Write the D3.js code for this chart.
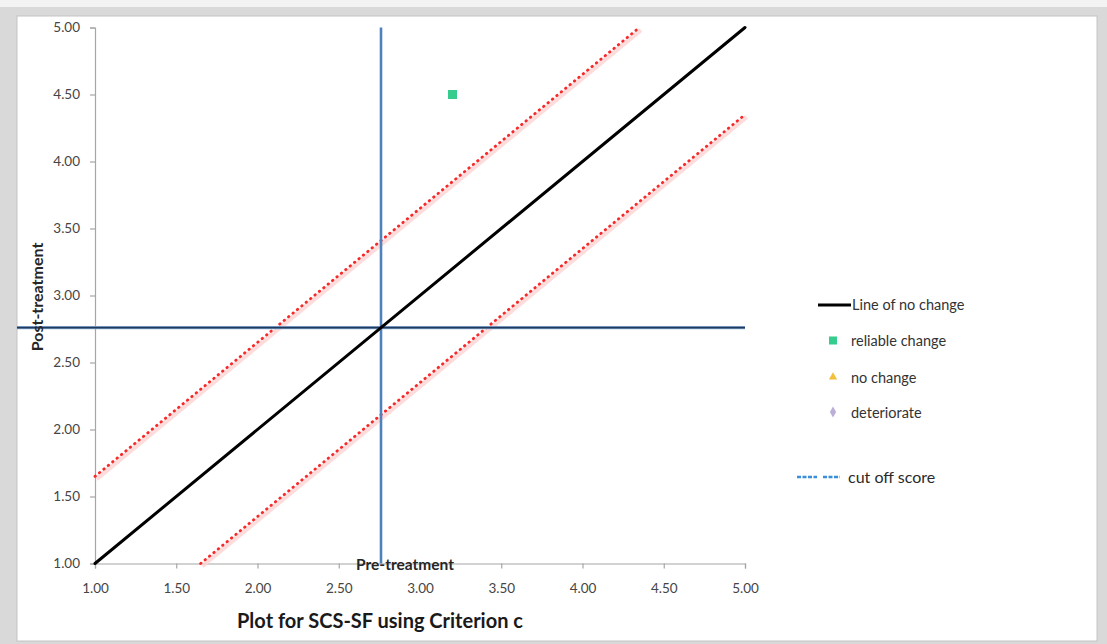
<!DOCTYPE html>
<html>
<head>
<meta charset="utf-8">
<script src="https://cdn.jsdelivr.net/npm/d3@7"></script>
<style>
  html, body { margin: 0; padding: 0; background: #d9d9d9; }
  svg { display: block; }
</style>
</head>
<body>
<svg id="chart" width="1107" height="644"></svg>
<script>
// Axis ticks (pre- and post-treatment scores)
const xTicks = [1.0, 1.5, 2.0, 2.5, 3.0, 3.5, 4.0, 4.5, 5.0];
const yTicks = [1.0, 1.5, 2.0, 2.5, 3.0, 3.5, 4.0, 4.5, 5.0];

// Line of no change (post = pre)
const noChangeLine = [[1.0, 1.0], [5.0, 5.0]];
// Reliable change index boundaries
const upperBound = [[1.0, 1.65], [4.35, 5.0]];
const lowerBound = [[1.65, 1.0], [5.0, 4.35]];
// Cut off scores
const cutoffPre = 2.76;
const cutoffPost = 2.76;

// Participants by outcome: [pre, post]
const reliableChange = [[3.2, 4.5]];
const noChange = [];
const deteriorate = [];

// Legend entries
const legendLabels = ["Line of no change", "reliable change", "no change", "deteriorate"];
const cutoffLabel = "cut off score";

const svg = d3.select("#chart");
const font = "Lato, 'Open Sans', sans-serif";

// Background panels
svg.append("rect").attr("x", 0).attr("y", 0).attr("width", 1107).attr("height", 7).attr("fill", "#f3f3f3");
svg.append("rect").attr("x", 17).attr("y", 16).attr("width", 1080).attr("height", 625)
  .attr("fill", "#ffffff").attr("stroke", "#c4c4c4").attr("stroke-width", 1);

const x = d3.scaleLinear().domain([1, 5]).range([95, 745]);
const y = d3.scaleLinear().domain([1, 5]).range([563.5, 27.5]);
const line = d3.line().x(d => x(d[0])).y(d => y(d[1]));

// Axes
const xAxis = svg.append("g").attr("transform", `translate(0,${y(1)})`)
  .call(d3.axisBottom(x).tickValues(xTicks).tickFormat(d3.format(".2f")).tickSize(5).tickSizeOuter(5).tickPadding(15));
const yAxis = svg.append("g").attr("transform", `translate(${x(1)},0)`)
  .call(d3.axisLeft(y).tickValues(yTicks).tickFormat(d3.format(".2f")).tickSize(5).tickSizeOuter(5).tickPadding(10));
[xAxis, yAxis].forEach(g => {
  g.selectAll("path, line").attr("stroke", "#a6a6a6").attr("stroke-width", 1.2);
  g.selectAll("text").attr("fill", "#454545").style("font-family", font).style("font-size", "13.5px");
});

// Reliable change boundaries: red dotted with a soft pink shadow
[upperBound, lowerBound].forEach(seg => {
  svg.append("path").datum(seg).attr("d", line)
    .attr("transform", "translate(1.5,2.5)")
    .attr("fill", "none").attr("stroke", "#ffd3d3").attr("stroke-width", 4.5).attr("opacity", 0.8);
  svg.append("path").datum(seg).attr("d", line)
    .attr("fill", "none").attr("stroke", "#f52a2a").attr("stroke-width", 2.8)
    .attr("stroke-linecap", "round").attr("stroke-dasharray", "0.5,5.2");
});

// Cut off lines
svg.append("line")
  .attr("x1", x(cutoffPre)).attr("x2", x(cutoffPre)).attr("y1", y(5)).attr("y2", y(1))
  .attr("stroke", "#4f81bd").attr("stroke-width", 2.6);
svg.append("line")
  .attr("x1", 17).attr("x2", x(5)).attr("y1", y(cutoffPost)).attr("y2", y(cutoffPost))
  .attr("stroke", "#8fb0d8").attr("stroke-width", 3.2);
svg.append("line")
  .attr("x1", 17).attr("x2", x(5)).attr("y1", y(cutoffPost)).attr("y2", y(cutoffPost))
  .attr("stroke", "#1f3a5f").attr("stroke-width", 1.6);

// Line of no change
svg.append("path").datum(noChangeLine).attr("d", line)
  .attr("fill", "none").attr("stroke", "#000").attr("stroke-width", 3).attr("stroke-linecap", "round");

// Participant markers
svg.selectAll(".reliable").data(reliableChange).enter().append("rect")
  .attr("x", d => x(d[0]) - 4.5).attr("y", d => y(d[1]) - 4.5)
  .attr("width", 9).attr("height", 9).attr("fill", "#35cc8e");
svg.selectAll(".nochange").data(noChange).enter().append("path")
  .attr("d", d3.symbol(d3.symbolTriangle, 40)())
  .attr("transform", d => `translate(${x(d[0])},${y(d[1])})`).attr("fill", "#f5c242");
svg.selectAll(".deteriorate").data(deteriorate).enter().append("path")
  .attr("d", d3.symbol(d3.symbolDiamond, 40)())
  .attr("transform", d => `translate(${x(d[0])},${y(d[1])})`).attr("fill", "#b9a9d6");

// Axis titles
svg.append("text").attr("x", 405).attr("y", 570).attr("text-anchor", "middle")
  .style("font-family", font).style("font-weight", "bold").style("font-size", "15.5px").attr("fill", "#262626")
  .text("Pre-treatment");
svg.append("text").attr("transform", "translate(43,297) rotate(-90)").attr("text-anchor", "middle")
  .style("font-family", font).style("font-weight", "bold").style("font-size", "16px").attr("fill", "#262626")
  .text("Post-treatment");
svg.append("text").attr("x", 380).attr("y", 628).attr("text-anchor", "middle")
  .style("font-family", font).style("font-weight", "bold").style("font-size", "20px").attr("fill", "#1a1a1a")
  .text("Plot for SCS-SF using Criterion c");

// Legend
const leg = svg.append("g");
const legY = [305, 341, 378, 413];
leg.append("line").attr("x1", 818).attr("x2", 851).attr("y1", legY[0]).attr("y2", legY[0])
  .attr("stroke", "#000").attr("stroke-width", 3);
leg.append("rect").attr("x", 829).attr("y", legY[1] - 4.5).attr("width", 8).attr("height", 8).attr("fill", "#35cc8e");
leg.append("path").attr("d", d3.symbol(d3.symbolTriangle, 30)())
  .attr("transform", `translate(833,${legY[2] - 1})`).attr("fill", "#f2bf3a");
leg.append("path").attr("d", d3.symbol(d3.symbolDiamond, 34)())
  .attr("transform", `translate(833,${legY[3] - 1})`).attr("fill", "#bcaed8");
legendLabels.forEach((t, i) => {
  leg.append("text").attr("x", i === 0 ? 852 : 851).attr("y", legY[i] + 5)
    .style("font-family", font).style("font-size", "14.5px").attr("fill", "#333")
    .text(t);
});
// Cut off legend sample: two short groups of fine dashes
[[797, 817], [823, 840]].forEach(([a, b]) => {
  leg.append("line").attr("x1", a).attr("x2", b).attr("y1", 477).attr("y2", 477)
    .attr("stroke", "#3a8fd8").attr("stroke-width", 2.4).attr("stroke-dasharray", "4,1.5");
});
leg.append("text").attr("x", 848).attr("y", 483)
  .style("font-family", font).style("font-size", "16px").attr("fill", "#2a2a2a")
  .text(cutoffLabel);
</script>
</body>
</html>
